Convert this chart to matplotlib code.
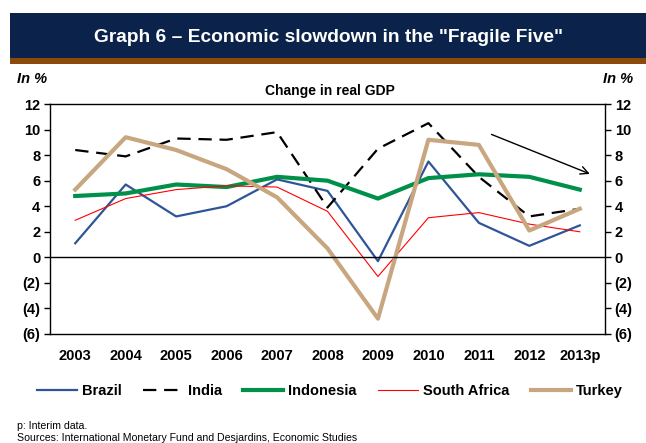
import matplotlib.pyplot as plt
from matplotlib.patches import Rectangle
from matplotlib.ticker import FuncFormatter

plt.rcParams['font.family'] = ['Liberation Sans', 'DejaVu Sans']

years = ['2003', '2004', '2005', '2006', '2007', '2008', '2009', '2010', '2011', '2012', '2013p']
brazil = [1.1, 5.7, 3.2, 4.0, 6.1, 5.2, -0.3, 7.5, 2.7, 0.9, 2.5]
india = [8.4, 7.9, 9.3, 9.2, 9.8, 3.9, 8.5, 10.5, 6.3, 3.2, 3.8]
indonesia = [4.8, 5.0, 5.7, 5.5, 6.3, 6.0, 4.6, 6.2, 6.5, 6.3, 5.3]
south_africa = [2.9, 4.6, 5.3, 5.6, 5.5, 3.6, -1.5, 3.1, 3.5, 2.6, 2.0]
turkey = [5.3, 9.4, 8.4, 6.9, 4.7, 0.7, -4.8, 9.2, 8.8, 2.1, 3.8]

fig = plt.figure(figsize=(6.46, 4.43), dpi=100)
W, H = 646, 443

# title banner with brown underline
fig.patches.append(Rectangle((10 / W, 1 - 58 / H), 1, 45 / H, transform=fig.transFigure,
                             facecolor='#0B234A', edgecolor='none'))
fig.patches.append(Rectangle((10 / W, 1 - 63.5 / H), 1, 5.5 / H, transform=fig.transFigure,
                             facecolor='#8B4A0B', edgecolor='none'))
fig.text(329 / W, 1 - 37 / H, 'Graph 6 \u2013 Economic slowdown in the "Fragile Five"',
         color='white', fontsize=13.8, fontweight='bold', ha='center', va='center')

ax = fig.add_axes([50 / W, 1 - 334 / H, 555 / W, 230 / H])
x = list(range(len(years)))
ax.plot(x, brazil, color='#2F5597', lw=1.6, label='Brazil')
ax.plot(x, india, color='black', lw=1.6, dashes=(6, 3.5), label='India')
ax.plot(x, indonesia, color='#00904A', lw=3.0, label='Indonesia')
ax.plot(x, south_africa, color='#FF0000', lw=0.8, label='South Africa')
ax.plot(x, turkey, color='#C8A680', lw=3.0, label='Turkey')
ax.axhline(0, color='black', lw=1)

# downward trend arrow
ax.annotate('', xy=(10.25, 6.45), xytext=(8.2, 9.7),
            arrowprops=dict(arrowstyle='->', color='black', lw=1, mutation_scale=14))

ax.set_xlim(-0.5, 10.5)
ax.set_ylim(-6, 12)
ax.set_yticks(range(-6, 13, 2))
fmt = FuncFormatter(lambda v, p: f'({abs(int(v))})' if v < 0 else f'{int(v)}')
ax.yaxis.set_major_formatter(fmt)
ax.tick_params(axis='y', which='both', direction='out', length=4, width=1,
               left=True, right=True, labelleft=True, labelright=True,
               labelsize=10.5, pad=3)
for t in ax.yaxis.get_major_ticks():
    t.label1.set_fontweight('bold')
    t.label2.set_fontweight('bold')
ax.set_xticks(x)
ax.set_xticklabels(years, fontsize=10.5, fontweight='bold')
ax.tick_params(axis='x', length=0, pad=11)
for s in ax.spines.values():
    s.set_linewidth(1)

fig.text(17 / W, 1 - 79 / H, 'In %', fontsize=10.5, fontweight='bold', style='italic', va='center')
fig.text(603 / W, 1 - 79 / H, 'In %', fontsize=10.5, fontweight='bold', style='italic', va='center')
fig.text(330 / W, 1 - 91 / H, 'Change in real GDP', fontsize=10, fontweight='bold',
         ha='center', va='center')

handles, labels = ax.get_legend_handles_labels()
fig.legend(handles, labels, loc='center left', bbox_to_anchor=(37 / W, 1 - 391 / H), ncol=5,
           frameon=False, handlelength=2.75, handletextpad=0.34, columnspacing=1.45,
           borderpad=0, borderaxespad=0, prop={'weight': 'bold', 'size': 10.5})

fig.text(17 / W, 1 - 426 / H, 'p: Interim data.', fontsize=7.6, va='center')
fig.text(17 / W, 1 - 438 / H, 'Sources: International Monetary Fund and Desjardins, Economic Studies',
         fontsize=7.6, va='center')

fig.savefig('out.png', dpi=100)
